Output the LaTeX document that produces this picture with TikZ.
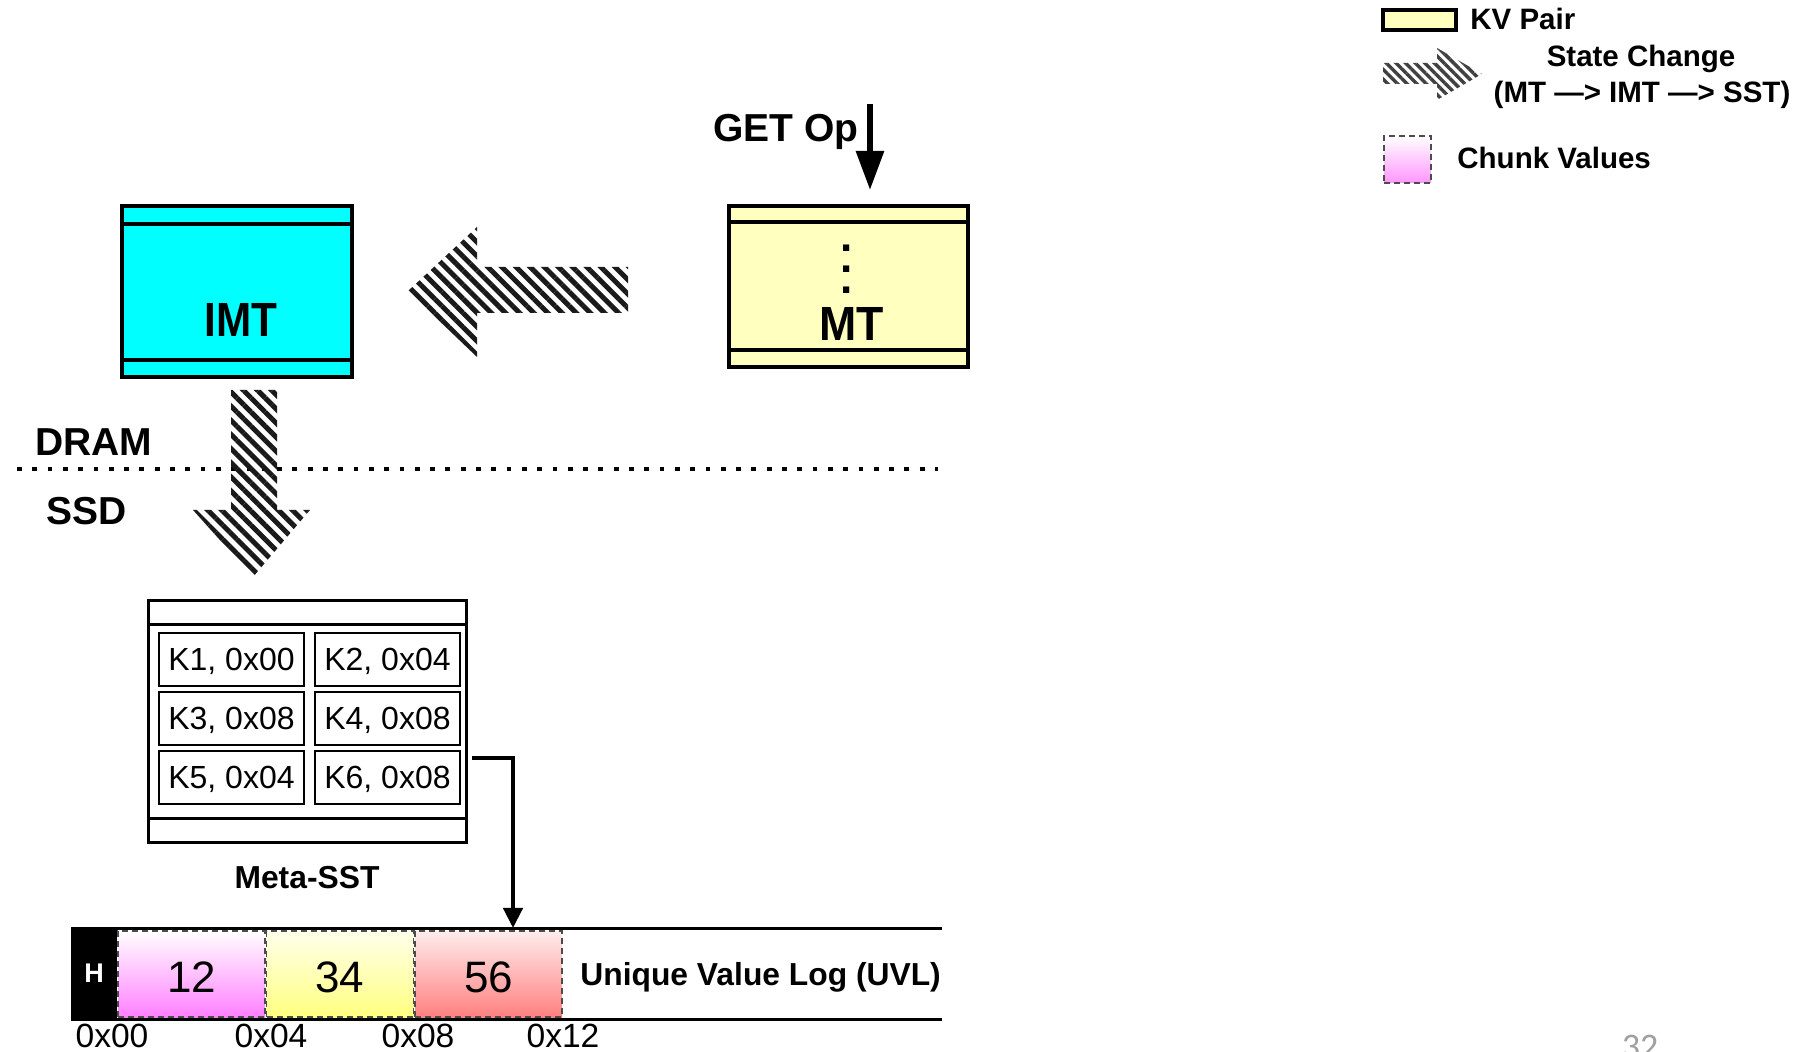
\documentclass[tikz,border=0pt]{standalone}
\usepackage{fontspec}
\setmainfont{Liberation Sans}
\newfontfamily\pagenofont{Carlito}
\usetikzlibrary{arrows.meta,patterns.meta}

\definecolor{imtcyan}{RGB}{0,255,255}
\definecolor{kvyellow}{RGB}{255,255,192}
\definecolor{chunkpink}{RGB}{255,128,255}
\definecolor{legpink}{RGB}{255,150,255}
\definecolor{chunkyellowtop}{RGB}{255,255,235}
\definecolor{chunkyellow}{RGB}{255,255,128}
\definecolor{chunkredtop}{RGB}{255,236,236}
\definecolor{chunkred}{RGB}{255,128,128}
\definecolor{pagegray}{RGB}{160,160,160}
\definecolor{stripeblack}{RGB}{26,26,26}

\tikzset{
  memtable/.style={draw, line width=2pt, inner sep=0pt, outer sep=0pt},
  bandline/.style={line width=2pt},
  biglabel/.style={inner sep=0pt, font=\bfseries\fontsize{24}{27}\selectfont},
  dotmark/.style={inner sep=0pt, font=\bfseries\fontsize{22}{24}\selectfont},
  sidelabel/.style={inner sep=0pt, font=\bfseries\fontsize{19.5}{23}\selectfont},
  legendtext/.style={inner sep=0pt, font=\bfseries\fontsize{14.75}{17}\selectfont},
  midlabel/.style={inner sep=0pt, font=\bfseries\fontsize{15.9}{19}\selectfont},
  cell/.style={draw, line width=1.25pt, minimum width=72.5pt, minimum height=26.5pt,
               inner sep=0pt, outer sep=0pt, text depth=0pt, font=\fontsize{16}{19}\selectfont},
  chunk/.style={draw=black!70, dash pattern=on 3pt off 2pt, line width=0.7pt,
                minimum width=73.5pt, minimum height=43pt, inner sep=0pt, outer sep=0pt,
                text height=18.5pt, text depth=0pt, font=\fontsize{22}{25}\selectfont},
  addr/.style={anchor=base, inner sep=0pt, font=\fontsize{16.8}{19}\selectfont},
  stripes/.style={pattern={Lines[angle=-45,distance=5pt,line width=2.5pt]},
                  pattern color=stripeblack},
  finestripes/.style={pattern={Lines[angle=-45,distance=3.4pt,line width=1.7pt]},
                      pattern color=black!75},
  getarrow/.style={line width=3pt, -{Triangle[length=19.5pt,width=13.5pt]}},
  ptrarrow/.style={line width=2.2pt, -{Triangle[length=10pt,width=9.5pt]}},
}

\begin{document}
\begin{tikzpicture}[x=0.5pt,y=-0.5pt]
\useasboundingbox (0,0) rectangle (1805,1052);
\clip (0,0) rectangle (1805,1052);
\fill[white] (0,0) rectangle (1805,1052);

% ---------- legend ----------
\node[draw, line width=1.75pt, fill=kvyellow, minimum width=36.5pt, minimum height=10pt,
      inner sep=0pt] (legkv) at (1419.5,20) {};
\node[legendtext, anchor=base west] (legkvtext) at (1470,30) {KV Pair};
\path[finestripes] (1383,63) -- (1437,63) -- (1437,48) -- (1482,74) -- (1437,100)
      -- (1437,84) -- (1383,84) -- cycle;
\node[legendtext, anchor=base] (legstate) at (1641,67) {State Change};
\node[legendtext, anchor=base] (legstate2) at (1642,103) {(MT —> IMT —> SST)};
\node[draw=black!70, dash pattern=on 3pt off 2pt, line width=0.7pt, shade,
      top color=white, bottom color=legpink, minimum width=23.5pt, minimum height=23.5pt,
      inner sep=0pt] (legchunk) at (1407.5,159.5) {};
\node[legendtext, anchor=base west] (legchunktext) at (1457,168.5) {Chunk Values};

% ---------- memtables in DRAM ----------
\node[memtable, fill=kvyellow, minimum width=119.5pt, minimum height=80.5pt] (mt) at (848.5,286.5) {};
\draw[bandline] ([yshift=-8pt]mt.north west) -- ([yshift=-8pt]mt.north east);
\draw[bandline] ([yshift=8.5pt]mt.south west) -- ([yshift=8.5pt]mt.south east);
\node[dotmark] (mtdot1) at (847,248) {.};
\node[dotmark] (mtdot2) at (847,269) {.};
\node[dotmark] (mtdot3) at (847,290) {.};
\node[biglabel] (mtlabel) at (852,324) {\scalebox{0.93}[1]{MT}};

\node[memtable, fill=imtcyan, minimum width=115pt, minimum height=85.5pt] (imt) at (237,291.5) {};
\draw[bandline] ([yshift=-9pt]imt.north west) -- ([yshift=-9pt]imt.north east);
\draw[bandline] ([yshift=8.5pt]imt.south west) -- ([yshift=8.5pt]imt.south east);
\node[biglabel] (imtlabel) at (241,320) {\scalebox{0.88}[1]{IMT}};

% GET request entering the memtable
\node[sidelabel, anchor=base west] (getop) at (713,141.5) {GET Op};
\coordinate (getstart) at (870,104);
\draw[getarrow, shorten >=8pt] (getstart) -- (getstart |- mt.north);

% state change MT -> IMT
\path[stripes] (408,291) -- (477,227) -- (477,267) -- (628,267) -- (628,313)
      -- (477,313) -- (477,357) -- cycle;

% ---------- DRAM / SSD boundary ----------
\draw[line width=2pt, dash pattern=on 2.4pt off 5.25pt] (17,469) -- (938,469);
\node[sidelabel, anchor=base west] (dram) at (35,456) {DRAM};
\node[sidelabel, anchor=base west] (ssd) at (46,525) {SSD};

% state change IMT -> SST
\path[stripes] (231,390) -- (277,390) -- (277,510) -- (310,510) -- (253,577)
      -- (193,510) -- (231,510) -- cycle;

% ---------- Meta-SST ----------
\node[draw, line width=1.5pt, inner sep=0pt, outer sep=0pt, minimum width=159pt,
      minimum height=121pt] (meta) at (307,722) {};
\draw[line width=1.5pt] ([yshift=-12pt]meta.north west) -- ([yshift=-12pt]meta.north east);
\draw[line width=1.5pt] ([yshift=12pt]meta.south west) -- ([yshift=12pt]meta.south east);
\node[cell] (k1) at (231.5,659.5) {K1, 0x00};
\node[cell] (k2) at (387.5,659.5) {K2, 0x04};
\node[cell] (k3) at (231.5,718.5) {K3, 0x08};
\node[cell] (k4) at (387.5,718.5) {K4, 0x08};
\node[cell] (k5) at (231.5,777.5) {K5, 0x04};
\node[cell] (k6) at (387.5,777.5) {K6, 0x08};
\node[midlabel, anchor=base] (metalabel) at (307,889) {Meta-SST};

% ---------- Unique Value Log ----------
\node[fill=black, text=white, inner sep=0pt, outer sep=0pt, minimum width=23pt,
      minimum height=45.5pt, font=\bfseries\fontsize{13.5}{15}\selectfont] (hdr) at (94,973.5) {H};
\coordinate (uvlTR) at (942,928);
\coordinate (uvlBR) at (942,1019);
\draw[line width=1.5pt] (hdr.north west) -- (uvlTR);
\draw[line width=1.5pt] (hdr.south west) -- (uvlBR);
\node[chunk, shade, top color=white, bottom color=chunkpink] (c12) at (191.5,974) {12};
\node[chunk, shade, top color=chunkyellowtop, bottom color=chunkyellow] (c34) at (340,974) {34};
\node[chunk, shade, top color=chunkredtop, bottom color=chunkred] (c56) at (488.5,974) {56};
\node[midlabel, anchor=base west] (uvllabel) at (580,985) {Unique Value Log (UVL)};

\node[addr] (a00) at (112,1047.5) {0x00};
\node[addr] (a04) at (271,1047.5) {0x04};
\node[addr] (a08) at (418,1047.5) {0x08};
\node[addr] (a12) at (563,1047.5) {0x12};

% Meta-SST entry pointing into the log
\coordinate (mstart) at (472,758);
\coordinate (uvlin) at (513,928);
\draw[ptrarrow] (mstart) -| (uvlin);

% slide number
\node[anchor=base, inner sep=0pt, text=pagegray, font=\pagenofont\fontsize{18}{20}\selectfont] (pageno) at (1640,1058) {32};
\end{tikzpicture}
\end{document}
